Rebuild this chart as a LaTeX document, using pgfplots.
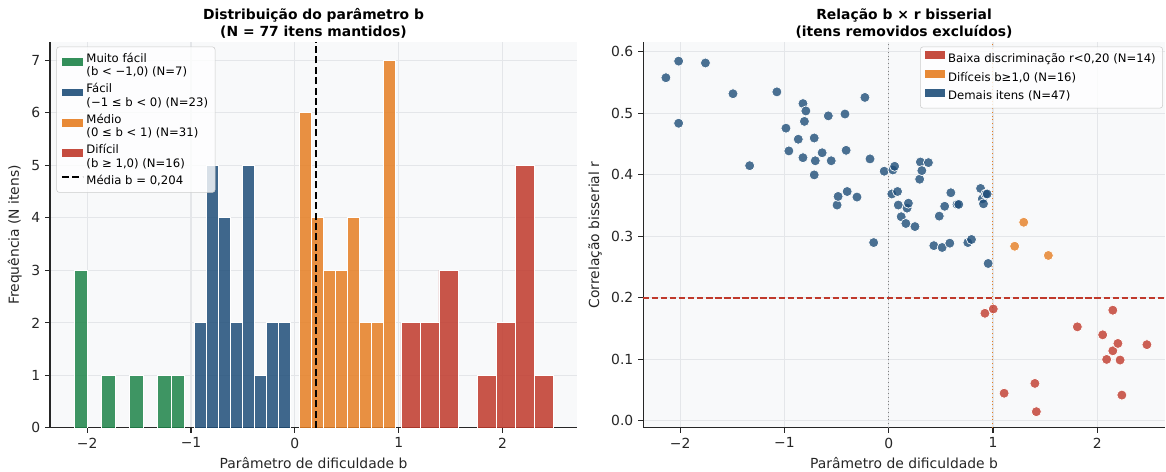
\documentclass[border=0pt]{standalone}
\usepackage{fontspec}
\setmainfont{DejaVu Sans}
\usepackage{pgfplots}
\pgfplotsset{compat=1.18}

\definecolor{cgreen}{HTML}{1E8449}
\definecolor{cblue}{HTML}{1F4E79}
\definecolor{corange}{HTML}{E67E22}
\definecolor{cred}{HTML}{C0392B}
\definecolor{bgc}{HTML}{F8F9FA}
\definecolor{gridc}{HTML}{E4E6E9}
\definecolor{txt}{HTML}{262626}

\pgfplotsset{
  panel/.style={
    scale only axis, height=277.9pt, anchor=south west,
    axis background/.style={fill=bgc},
    axis x line*=bottom, axis y line*=left,
    axis line style={-, black!85, line width=0.8pt},
    tick pos=left, tick align=outside, major tick length=3.5pt,
    tick style={black!85, line width=0.8pt},
    grid=major, major grid style={gridc, line width=0.8pt},
    tick label style={font=\fontsize{10}{12}\selectfont, text=txt},
    label style={font=\fontsize{10}{12}\selectfont, text=txt},
    title style={font=\fontsize{10}{12}\selectfont\bfseries, align=center, text=black, yshift=-7pt},
    /pgf/number format/assume math mode=true,
    legend cell align=left,
    legend style={font=\fontsize{8.4}{9.6}\selectfont, draw=black!20, rounded corners=2pt,
      fill=white, fill opacity=0.8, text opacity=1, row sep=0pt,
      inner xsep=3pt, inner ysep=2.5pt},
  },
  patchlegend/.style={legend image code/.code={%
      \fill[##1, sharp corners, draw=none, fill opacity=0.9] (0pt,-0.3pt) rectangle (15pt,5.3pt);}},
  linelegend/.style={legend image code/.code={%
      \draw[##1, sharp corners] (0pt,2.5pt) -- (15pt,2.5pt);}},
  histbar/.style={ybar, bar shift=0pt, draw=white, line width=0.6pt, fill opacity=0.85},
  scatdots/.style={only marks, mark=*, mark size=3.6pt,
      mark options={fill=#1, fill opacity=0.8, draw=white, line width=0.5pt}},
}

% two-line legend text, centred on its patch
\newcommand{\two}[2]{\raisebox{4.8pt}{\begin{tabular}{@{}l@{}}#1\\#2\end{tabular}}}

\begin{document}
\begin{tikzpicture}
\useasboundingbox (0,0) rectangle (839.5pt,339.8pt);

% ---------- histogram of b by difficulty group ----------
\begin{axis}[panel, at={(36pt,31.7pt)}, width=379.4pt,
  xmin=-2.358, xmax=2.716, ymin=0, ymax=7.35,
  xtick={-2,-1,0,1,2}, xticklabels={−2,−1,0,1,2},
  ytick={0,1,2,3,4,5,6,7},
  xlabel={Parâmetro de dificuldade b},
  ylabel={Frequência (N itens)},
  title={Distribuição do parâmetro b\\(N = 77 itens mantidos)},
  legend style={at={(0.012,0.988)}, anchor=north west},
]
\addplot[histbar, bar width=0.13338, fill=cgreen, patchlegend] coordinates {
  (-2.060,3) (-1.794,1) (-1.527,1) (-1.260,1) (-1.127,1)};
\addlegendentry{\two{Muito fácil}{(b < −1,0) (N=7)}}
\addplot[histbar, bar width=0.11575, fill=cblue, patchlegend] coordinates {
  (-0.909,2) (-0.793,5) (-0.678,4) (-0.562,2) (-0.446,5) (-0.330,1) (-0.215,2) (-0.099,2)};
\addlegendentry{\two{Fácil}{(−1 ≤ b < 0) (N=23)}}
\addplot[histbar, bar width=0.11490, fill=corange, patchlegend] coordinates {
  (0.102,6) (0.217,4) (0.332,3) (0.447,3) (0.562,4) (0.677,2) (0.792,2) (0.907,7)};
\addlegendentry{\two{Médio}{(0 ≤ b < 1) (N=31)}}
\addplot[histbar, bar width=0.18288, fill=cred, patchlegend] coordinates {
  (1.113,2) (1.296,2) (1.479,3) (1.845,1) (2.028,2) (2.211,5) (2.394,1)};
\addlegendentry{\two{Difícil}{(b ≥ 1,0) (N=16)}}
\addplot[black, line width=1.5pt, dash pattern=on 5pt off 2.5pt, linelegend]
  coordinates {(0.204,0) (0.204,7.35)};
\addlegendentry{Média b = 0,204}
\end{axis}

% ---------- b versus point-biserial r ----------
\begin{axis}[panel, at={(463pt,31.7pt)}, width=375.8pt,
  xmin=-2.355, xmax=2.65, ymin=-0.0114, ymax=0.6162,
  xtick={-2,-1,0,1,2}, xticklabels={−2,−1,0,1,2},
  ytick={0,0.1,0.2,0.3,0.4,0.5,0.6},
  yticklabels={0.0,0.1,0.2,0.3,0.4,0.5,0.6},
  xlabel={Parâmetro de dificuldade b},
  ylabel={Correlação bisserial r},
  title={Relação b × r bisserial\\(itens removidos excluídos)},
  legend style={at={(0.996,0.988)}, anchor=north east, row sep=1.5pt},
]
\addplot[forget plot, gray, line width=0.7pt, dotted] coordinates {(0,-0.0114) (0,0.6162)};
\addplot[forget plot, corange, line width=0.7pt, dotted] coordinates {(1,-0.0114) (1,0.6162)};
\addplot[forget plot, cred, line width=1.1pt, dash pattern=on 4.5pt off 2pt] coordinates {(-2.355,0.2) (2.65,0.2)};

\addplot[forget plot, scatdots=cblue] coordinates {
  (-2.136,0.558) (-2.014,0.585) (-2.014,0.484) (-1.757,0.582) (-1.493,0.532)
  (-1.333,0.415) (-1.072,0.535) (-0.985,0.476) (-0.957,0.439) (-0.867,0.458)
  (-0.822,0.516) (-0.794,0.504) (-0.808,0.487) (-0.822,0.428) (-0.714,0.460)
  (-0.704,0.423) (-0.714,0.400) (-0.638,0.436) (-0.579,0.496) (-0.551,0.423)
  (-0.419,0.499) (-0.408,0.440) (-0.495,0.351) (-0.485,0.365) (-0.398,0.373)
  (-0.304,0.364) (-0.228,0.526) (-0.179,0.426) (-0.144,0.290) (-0.043,0.406)
  (0.040,0.408) (0.057,0.414) (0.030,0.369) (0.085,0.373) (0.092,0.351)
  (0.120,0.332) (0.165,0.321) (0.176,0.346) (0.189,0.354) (0.252,0.316)
  (0.297,0.393) (0.304,0.421) (0.318,0.407) (0.381,0.420) (0.433,0.285)
  (0.485,0.333) (0.513,0.282) (0.537,0.349) (0.586,0.289) (0.596,0.371)
  (0.655,0.352) (0.672,0.352) (0.759,0.290) (0.794,0.295) (0.881,0.378)
  (0.898,0.361) (0.909,0.353) (0.930,0.369) (0.944,0.369) (0.954,0.256)};
\addplot[forget plot, scatdots=corange] coordinates {
  (1.208,0.284) (1.295,0.323) (1.531,0.269)};
\addplot[forget plot, scatdots=cred] coordinates {
  (0.923,0.175) (1.003,0.182) (1.107,0.045) (1.402,0.061) (1.416,0.015)
  (1.809,0.153) (2.052,0.140) (2.090,0.100) (2.149,0.114) (2.149,0.180)
  (2.198,0.126) (2.219,0.099) (2.236,0.042) (2.476,0.124)};

\addlegendimage{patchlegend, fill=cred}
\addlegendentry{Baixa discriminação r<0,20 (N=14)}
\addlegendimage{patchlegend, fill=corange}
\addlegendentry{Difíceis b≥1,0 (N=16)}
\addlegendimage{patchlegend, fill=cblue}
\addlegendentry{Demais itens (N=47)}
\end{axis}
\end{tikzpicture}
\end{document}
